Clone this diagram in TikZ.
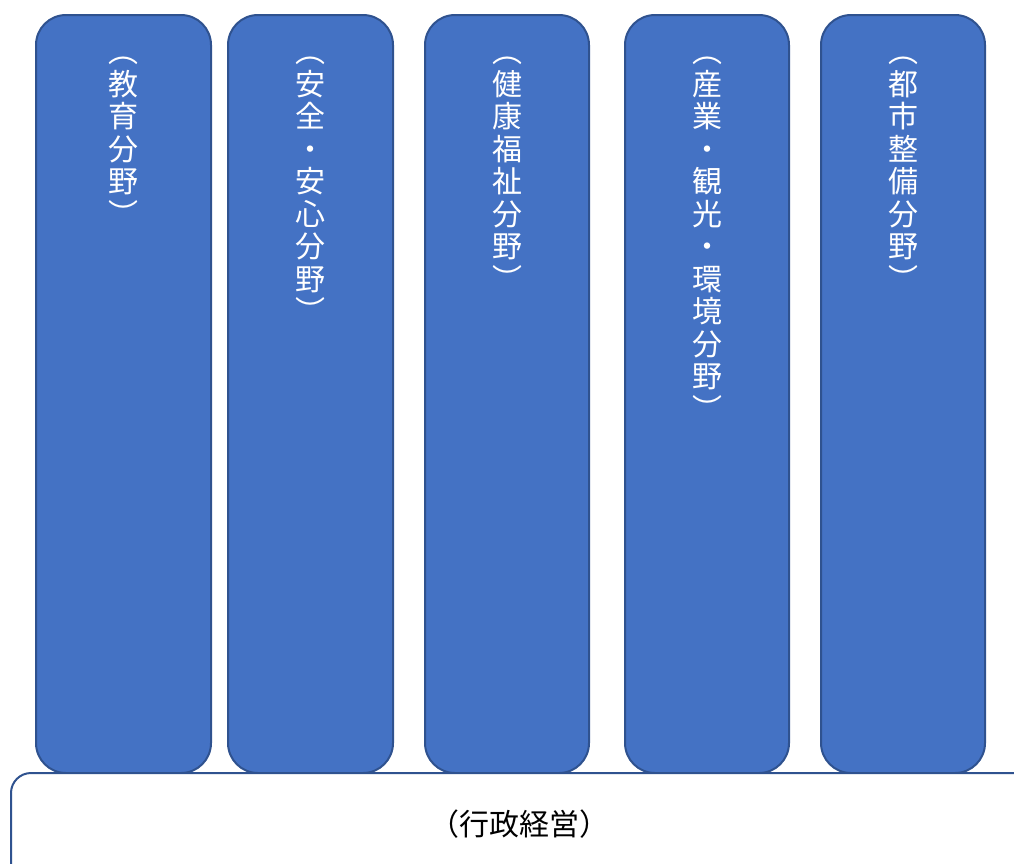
\documentclass[tikz,border=0pt]{standalone}
\usepackage{fontspec}
\setmainfont{Noto Sans CJK JP}
\usetikzlibrary{positioning}

\definecolor{fieldblue}{HTML}{4472C4}
\definecolor{fieldline}{HTML}{2F528F}

\begin{document}
\begin{tikzpicture}[x=1pt, y=-1pt,
    field/.style={draw=fieldline, line width=2pt, fill=fieldblue, rounded corners=30pt, minimum height=758pt, inner sep=0pt},
    fieldtext/.style={text=white, align=center, font=\fontsize{30}{32.5}\selectfont, inner sep=0pt},
    base/.style={draw=fieldline, line width=2pt, fill=white, rounded corners=20pt, inner sep=0pt}]
    \useasboundingbox (0,0) rectangle (1014,863);
    \clip (0,0) rectangle (1014,863);

    % fields
    \foreach \Name/\Left/\Right/\Text in {
        edu/36/211/{︵\\教\\育\\分\\野\\︶},
        safety/228/393/{︵\\安\\全\\・\\安\\心\\分\\野\\︶},
        health/425/589/{︵\\健\\康\\福\\祉\\分\\野\\︶},
        industry/625/789/{︵\\産\\業\\・\\観\\光\\・\\環\\境\\分\\野\\︶},
        urban/821/985/{︵\\都\\市\\整\\備\\分\\野\\︶}}{
        \node[field, minimum width={\Right-\Left}] (\Name) at ({(\Left+\Right)/2}, 394) {};
        \node[fieldtext, below=43pt of \Name.north] (\Name-text) {\Text};
    }

    % base
    \node[base, anchor=north west, minimum width=1040pt, minimum height=120pt] (admin) at (10,772) {};
    \node[font=\fontsize{30}{32.5}\selectfont, below right=34pt and 416pt of admin.north west] (admin-text) {（行政経営）};
\end{tikzpicture}
\end{document}
